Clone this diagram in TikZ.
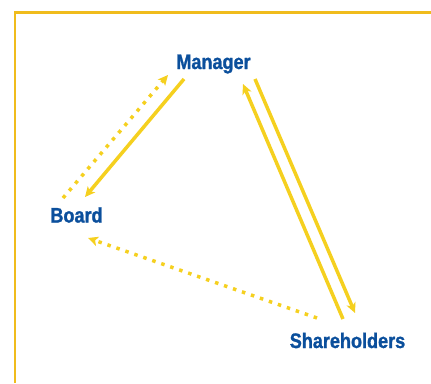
\documentclass[tikz,border=0pt]{standalone}
\usepackage{fontspec}
\setmainfont{Liberation Sans}[FakeStretch=0.86, BoldFeatures={FakeBold=1.2}]
\usetikzlibrary{arrows.meta}
\definecolor{frameyel}{HTML}{F0BC1C}
\definecolor{arryel}{HTML}{F5D01F}
\definecolor{txtblue}{HTML}{0B4F9C}
\begin{document}
\begin{tikzpicture}[x=1pt,y=-1pt,
  lbl/.style={font=\bfseries\fontsize{21}{25}\selectfont, text=txtblue, inner sep=0pt, anchor=base},
  solidarr/.style={draw=arryel, line width=3.5pt, -{Stealth[length=10pt,width=9.5pt,inset=2.5pt]}},
  dotarr/.style={solidarr, dash pattern=on 3.5pt off 6pt}]
\useasboundingbox (0,0) rectangle (431,383);
\draw[frameyel, line width=2.4pt] (15,383) -- (15,12.3) -- (431,12.3);
\node[lbl] (manager) at (213.5,69) {Manager};
\node[lbl] (board) at (76.5,222.5) {Board};
\node[lbl] (share) at (347.5,348) {Shareholders};
\coordinate (mb1) at (184,79);
\coordinate (mb2) at (85,197);
\coordinate (bm1) at (63,198);
\coordinate (bm2) at (168,75);
\coordinate (ms1) at (255,79);
\coordinate (ms2) at (355,313);
\coordinate (sm1) at (343,319);
\coordinate (sm2) at (243,84);
\coordinate (sb1) at (317,318);
\coordinate (sb2) at (88,238);
\draw[solidarr] (mb1) -- (mb2);
\draw[dotarr] (bm1) -- (bm2);
\draw[solidarr] (ms1) -- (ms2);
\draw[solidarr] (sm1) -- (sm2);
\draw[dotarr] (sb1) -- (sb2);
\end{tikzpicture}
\end{document}
